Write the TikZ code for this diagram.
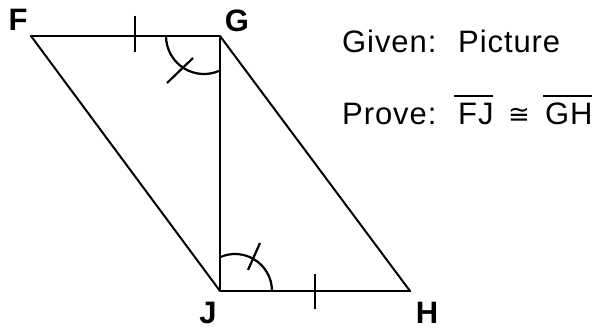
\documentclass[tikz,border=0pt]{standalone}
\usepackage{fontspec}
\setmainfont{Liberation Sans}
\newfontfamily\symfont{DejaVu Sans}
\begin{document}
\begin{tikzpicture}[x=1pt,y=-1pt,
  seg/.style={line width=2.6pt,line cap=round,line join=round},
  diag/.style={line width=2pt,line cap=round},
  tickmark/.style={line width=2.2pt},
  lbl/.style={font=\fontsize{31}{31}\selectfont\bfseries,inner sep=0pt},
  txt/.style={font=\fontsize{31}{31}\selectfont\addfontfeature{LetterSpace=3},inner sep=0pt,anchor=base west}]
\useasboundingbox (0,0) rectangle (598,331);
\coordinate (F) at (31,36);
\coordinate (G) at (220,36);
\coordinate (J) at (220,291);
\coordinate (H) at (410,291);
\draw[seg] (F) -- (G) -- (J) -- (H);
\draw[diag] (F) -- (J);
\draw[diag] (G) -- (H);
% tick marks
\draw[tickmark] (135,16) -- (135,52);
\draw[tickmark] (315,274) -- (315,309);
% angle arcs
\draw[tickmark] (166,36) arc[start angle=180,end angle=67,radius=38];
\draw[tickmark] (167,83) -- (193,58);
\draw[tickmark] (272,291) arc[start angle=0,end angle=-114,radius=37];
\draw[tickmark] (248,270) -- (260,243);
% labels
\node[lbl] (lF) at (18,20) {F};
\node[lbl] (lG) at (237,21) {G};
\node[lbl] (lJ) at (208,313) {J};
\node[lbl] (lH) at (427,313) {H};
\node[txt] (given) at (342,52.5) {Given:};
\node[txt] (pic) at (458,52.5) {Picture};
\node[txt] (prove) at (342,125) {Prove:};
\node[txt] (fj) at (458,125) {FJ};
\node[inner sep=0pt,anchor=base west,font=\symfont\fontsize{26}{26}\selectfont] (cong) at (508,124) {≅};
\node[txt] (gh) at (545,125) {GH};
\draw[line width=2pt] (454,96) -- (493,96);
\draw[line width=2pt] (543,96) -- (592,96);
\end{tikzpicture}
\end{document}
